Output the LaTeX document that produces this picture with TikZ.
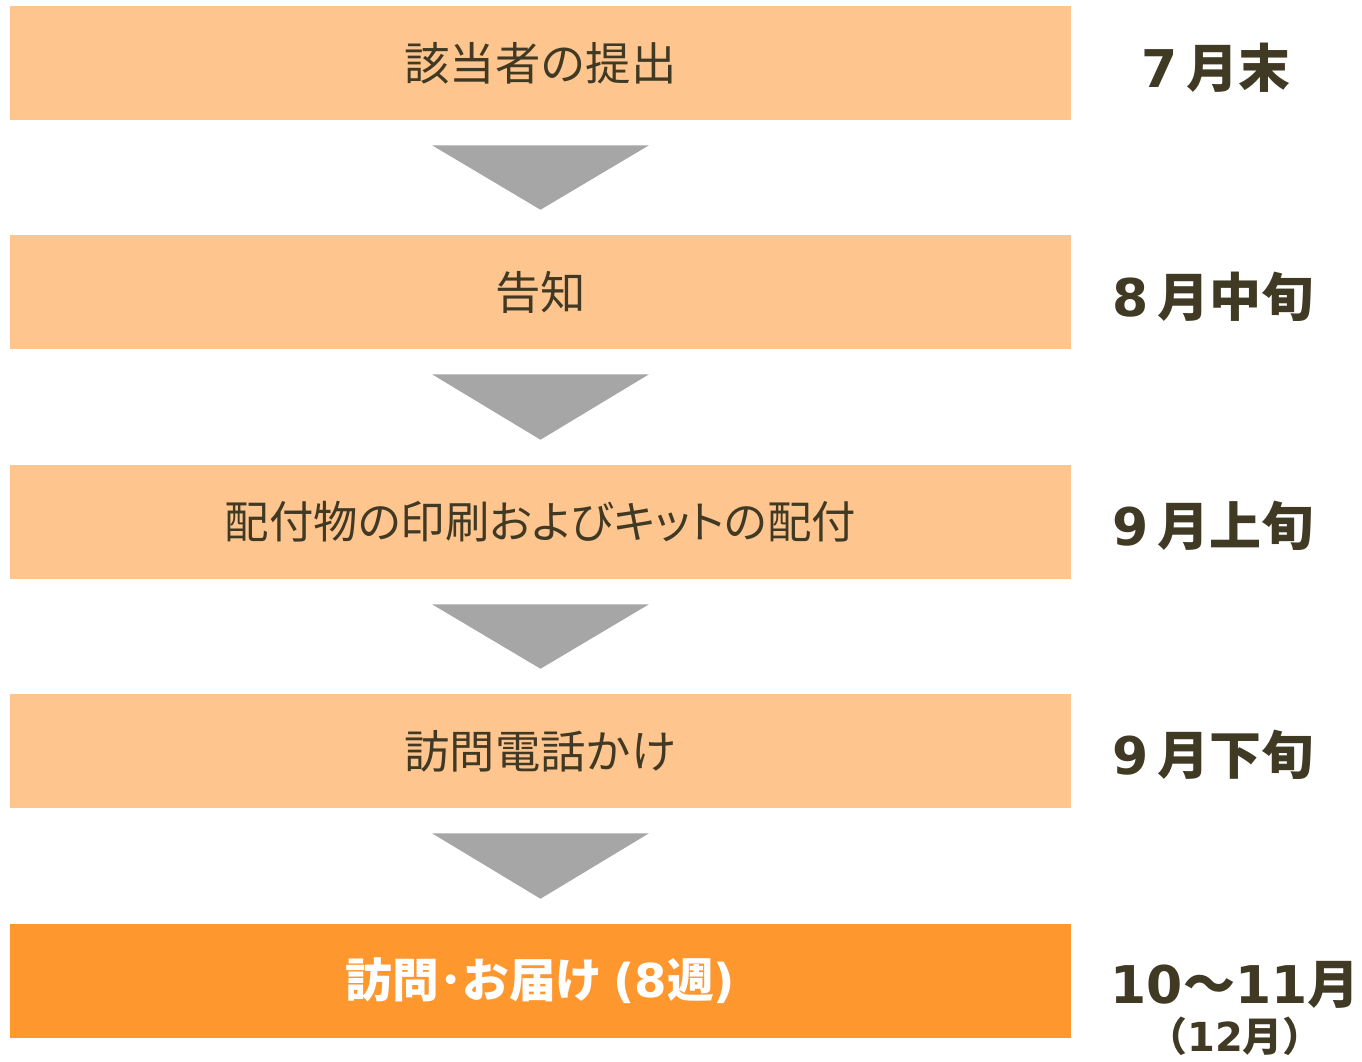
\documentclass[tikz,border=0pt]{standalone}
\usepackage{fontspec}
\setmainfont{Noto Sans CJK JP}
\newfontfamily\paltfont[RawFeature=+palt]{Noto Sans CJK JP}
\newfontfamily\digitfont{DejaVu Sans}
\usepackage{tikz}
\usetikzlibrary{calc}

\definecolor{stepfill}{RGB}{255,197,143}
\definecolor{lastfill}{RGB}{255,151,47}
\definecolor{arrowgrey}{RGB}{166,166,166}
\definecolor{textdark}{RGB}{64,57,36}

% digits set in a wider face
\newcommand{\dg}[1]{{\digitfont\bfseries #1}}

\tikzset{
  stepbox/.style={fill=stepfill, minimum width=795.75pt, minimum height=85.5pt, inner sep=0pt, text=textdark, font=\fontsize{34}{40}\selectfont},
  lastbox/.style={stepbox, fill=lastfill, text=white, font=\fontsize{35}{40}\selectfont\bfseries},
  datelabel/.style={inner sep=0pt, text=textdark, font=\fontsize{39}{44}\selectfont\bfseries},
  downarrow/.style={fill=arrowgrey}
}

\begin{document}
\begin{tikzpicture}[x=0.75pt,y=0.75pt,yscale=-1,xscale=1]
\useasboundingbox (0,0) rectangle (1362,1061);
% Steps
\node [stepbox] (s1) at (540.5,63) {該当者の提出};
\node [stepbox] (s2) at (540.5,292) {告知};
\node [stepbox, font=\fontsize{33.3}{40}\selectfont] (s3) at (540.5,522) {\paltfont 配付物の印刷およびキットの配付};
\node [stepbox] (s4) at (540.5,751) {訪問電話かけ};
\node [lastbox] (s5) at (540.5,981) {訪問･お届け \dg{(8}週\dg{)}};
% Arrows
\foreach \a/\b in {s1/s2,s2/s3,s3/s4,s4/s5}
  \fill [downarrow] ($(\a.south)+(-108.5,25)$) -- ($(\a.south)+(108.5,25)$) -- ($(\b.north)+(0,-25)$) -- cycle;
% Dates
\node [datelabel] (d1) at (1216,68) {\dg{7}\,月末};
\node [datelabel] (d2) at (1213,297) {\dg{8}\,月中旬};
\node [datelabel] (d3) at (1213,526) {\dg{9}\,月上旬};
\node [datelabel] (d4) at (1213,755) {\dg{9}\,月下旬};
\node [datelabel] (d5) at (1235,985) {\dg{10}～\dg{11}月};
\node [datelabel, font=\fontsize{30}{34}\selectfont\bfseries] (d6) at (1235,1036) {（\dg{12}月）};
\end{tikzpicture}
\end{document}
